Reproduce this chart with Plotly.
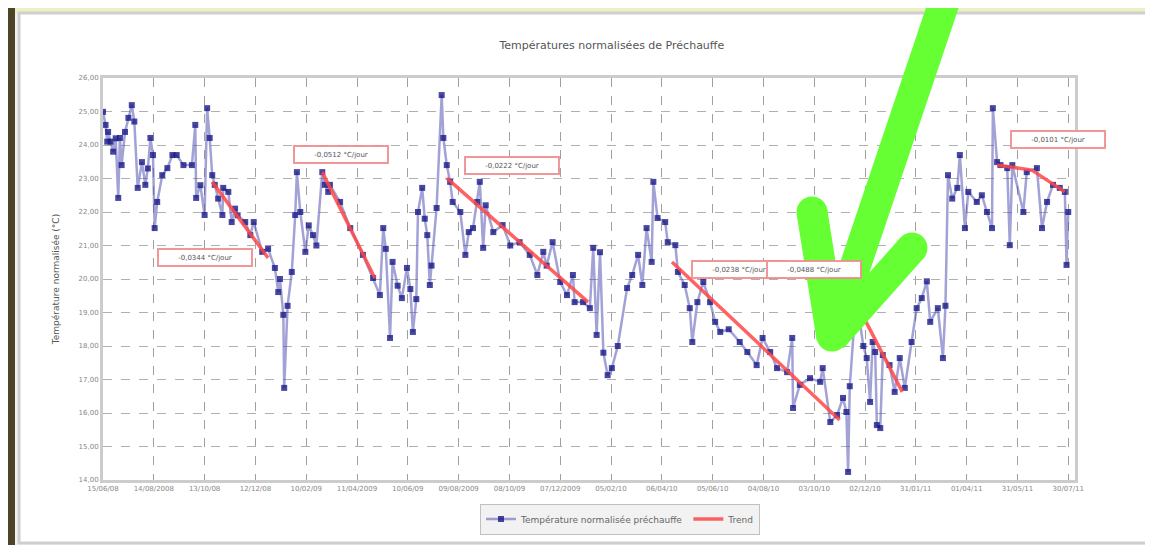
import plotly.graph_objects as go

# ---------------- data ----------------
title_text = "Températures normalisées de Préchauffe"
series_name = "Température normalisée préchauffe"
trend_name = "Trend"
y_title = "Température normalisée (°C)"

days = [0, 3, 5, 6, 9, 12, 15, 18, 20, 22, 26, 30, 34, 37, 41, 46, 50, 53, 56, 59,
        61, 64, 70, 76, 82, 87, 95, 105, 109, 110, 115, 120, 123, 126, 129, 132, 136, 141, 142, 148,
        152, 156, 159, 168, 174, 178, 188, 195, 203, 207, 209, 213, 214, 218, 223, 227, 229, 233, 239, 243,
        248, 252, 259, 262, 266, 268, 280, 292, 307, 319, 327, 331, 334, 339, 342, 348, 353, 359, 363, 366,
        370, 372, 377, 380, 383, 386, 388, 394, 400, 402, 406, 410, 413, 422, 428, 432, 437, 442, 445, 449,
        452, 461, 472, 481, 492, 504, 513, 520, 524, 531, 540, 548, 555, 557, 567, 575, 579, 583, 587, 591,
        596, 601, 608, 619, 625, 632, 637, 642, 648, 650, 655, 664, 667, 676, 679, 687, 693, 696, 702, 709,
        717, 723, 729, 739, 752, 761, 772, 779, 788, 796, 808, 814, 815, 823, 835, 847, 850, 859, 867, 874,
        878, 880, 882, 888, 894, 898, 902, 906, 909, 912, 914, 918, 921, 929, 935, 941, 947, 955, 961, 967,
        973, 977, 986, 992, 995, 998, 1003, 1009, 1012, 1018, 1022, 1032, 1038, 1044, 1050, 1051, 1056, 1060, 1068, 1071,
        1074, 1087, 1091, 1103, 1109, 1115, 1122, 1130, 1136, 1138, 1140]

temps = [24.99, 24.60, 24.10, 24.39, 24.10, 23.80, 24.20, 22.42, 24.21, 23.40, 24.39, 24.81, 25.19, 24.70, 22.72, 23.49, 22.81, 23.30, 24.21, 23.70,
         21.52, 22.30, 23.10, 23.31, 23.70, 23.70, 23.40, 23.40, 24.60, 22.42, 22.80, 21.91, 25.10, 24.21, 23.10, 22.81, 22.40, 21.91, 22.72, 22.60,
         21.70, 22.10, 21.90, 21.70, 21.31, 21.70, 20.81, 20.90, 20.33, 19.61, 20.00, 18.93, 16.75, 19.20, 20.21, 21.91, 23.19, 22.00, 20.81, 21.60,
         21.31, 21.00, 23.19, 22.81, 22.60, 22.81, 22.30, 21.52, 20.72, 20.03, 19.52, 21.52, 20.90, 18.24, 20.51, 19.80, 19.43, 20.33, 19.70, 18.42,
         19.40, 22.00, 22.72, 21.80, 21.31, 19.82, 20.40, 22.12, 25.49, 24.21, 23.40, 22.90, 22.30, 22.00, 20.72, 21.40, 21.52, 22.30, 22.90, 20.93,
         22.20, 21.40, 21.61, 21.00, 21.10, 20.72, 20.12, 20.81, 20.40, 21.10, 19.91, 19.52, 20.12, 19.31, 19.31, 19.13, 20.93, 18.33, 20.80, 17.80,
         17.13, 17.34, 18.00, 19.73, 20.12, 20.72, 19.82, 21.52, 20.51, 22.90, 21.82, 21.70, 21.10, 21.01, 20.21, 19.82, 19.13, 18.12, 19.31, 19.91,
         19.31, 18.72, 18.42, 18.50, 18.12, 17.82, 17.43, 18.24, 17.82, 17.34, 17.22, 18.24, 16.15, 16.84, 17.04, 16.93, 17.34, 15.73, 15.94, 16.45,
         16.03, 14.24, 16.80, 18.93, 18.70, 18.00, 17.64, 16.33, 18.12, 17.82, 15.64, 15.55, 17.73, 17.43, 16.63, 17.64, 16.75, 18.12, 19.13, 19.43,
         19.93, 18.72, 19.13, 17.64, 19.20, 23.10, 22.40, 22.72, 23.70, 21.52, 22.60, 22.30, 22.50, 22.00, 21.52, 25.10, 23.49, 23.40, 23.31, 21.01,
         23.40, 22.00, 23.19, 23.31, 21.52, 22.30, 22.81, 22.72, 22.60, 20.42, 22.00]

trend_days = [129, 195, None, 259, 321, None, 406, 573, None, 672, 870, None, 894, 944, None, 1056, 1097, 1136]
trend_vals = [22.90, 20.63, None, 23.19, 20.03, None, 23.01, 19.31, None, 20.51, 15.79, None, 19.07, 16.63, None, 23.40, 23.25, 22.60]

annot_days = [120, 281, 483, 751, 840, 1128]
annot_vals = [20.63, 23.73, 23.40, 20.27, 20.27, 24.15]
annot_texts = ["-0,0344 °C/jour", "-0,0512 °C/jour", "-0,0222 °C/jour", "-0,0238 °C/jour", "-0,0488 °C/jour", "-0,0101 °C/jour"]

tick_days = [0, 60, 120, 180, 240, 300, 360, 420, 480, 540, 600, 660, 720, 780, 840, 900, 960, 1020, 1080, 1140]
tick_labels = ["15/06/08", "14/08/2008", "13/10/08", "12/12/08", "10/02/09", "11/04/2009", "10/06/09", "09/08/2009",
               "08/10/09", "07/12/2009", "05/02/10", "06/04/10", "05/06/10", "04/08/10", "03/10/10", "02/12/10",
               "31/01/11", "01/04/11", "31/05/11", "30/07/11"]
y_ticks = [14, 15, 16, 17, 18, 19, 20, 21, 22, 23, 24, 25, 26]

# ---------------- layout helpers ----------------
# page has an 8px body margin: figure pixel = screen pixel - OFF
OFF = 8
W, H = 1153, 545
L, R, T, B = 103 - OFF, 1075 - OFF, 78 - OFF, 480 - OFF


def px(x):
    return (x - OFF - L) / (R - L)


def py(y):
    return (B - (y - OFF)) / (B - T)


fig = go.Figure()

fig.add_trace(go.Scatter(
    x=days, y=temps, mode="lines+markers", name=series_name,
    line=dict(color="rgba(70,70,175,0.5)", width=2.5),
    marker=dict(color="rgba(25,25,135,0.8)", size=6, symbol="square"),
))
fig.add_trace(go.Scatter(
    x=trend_days, y=trend_vals, mode="lines", name=trend_name,
    line=dict(color="rgba(255,70,70,0.85)", width=3.5),
))

for d, v, t in zip(annot_days, annot_vals, annot_texts):
    fig.add_annotation(x=d, y=v, text=t, showarrow=False,
                       font=dict(size=7, color="#555", family="DejaVu Sans"),
                       bgcolor="white", bordercolor="rgba(240,140,140,0.9)", borderwidth=2,
                       borderpad=2, width=88, height=11)

shapes = []
# outer screenshot background pieces
shapes.append(dict(type="rect", xref="paper", yref="paper", x0=px(0), x1=px(W + 10), y0=py(-10), y1=py(14),
                   fillcolor="#eef0c4", line=dict(width=0), layer="below"))
shapes.append(dict(type="rect", xref="paper", yref="paper", x0=px(-10), x1=px(15), y0=py(-10), y1=py(H + 10),
                   fillcolor="#4d4526", line=dict(width=0), layer="below"))
shapes.append(dict(type="rect", xref="paper", yref="paper", x0=px(-10), x1=px(7), y0=py(155), y1=py(195),
                   fillcolor="#e01010", line=dict(width=0), layer="below"))
shapes.append(dict(type="rect", xref="paper", yref="paper", x0=px(-10), x1=px(7), y0=py(445), y1=py(485),
                   fillcolor="#e01010", line=dict(width=0), layer="below"))
shapes.append(dict(type="rect", xref="paper", yref="paper", x0=px(19), x1=px(1152), y0=py(13), y1=py(543),
                   fillcolor="white", line=dict(color="#cfcfcf", width=3), layer="below"))

# green arrow overlay
g = "#66ff33"
aw = 31
for (x0, y0, x1, y1) in [(950, -15, 832, 335), (812, 212, 832, 338), (912, 248, 832, 338)]:
    shapes.append(dict(type="line", xref="paper", yref="paper", x0=px(x0), y0=py(y0), x1=px(x1), y1=py(y1),
                       line=dict(color=g, width=aw), layer="above"))
for (cx, cy) in [(812, 212), (912, 248), (832, 336)]:
    r = aw / 2
    shapes.append(dict(type="circle", xref="paper", yref="paper", x0=px(cx - r), x1=px(cx + r),
                       y0=py(cy + r), y1=py(cy - r), fillcolor=g, line=dict(width=0), layer="above"))

fig.update_layout(
    width=W, height=H,
    margin=dict(l=L, r=W - R, t=T, b=H - B),
    paper_bgcolor="#f3f3f3", plot_bgcolor="white",
    font=dict(family="DejaVu Sans", color="#777"),
    title=dict(text=title_text, x=px(612), xanchor="center", y=1 - (45 - OFF) / H, yanchor="middle",
               font=dict(size=11, color="#555")),
    showlegend=True,
    legend=dict(orientation="h", x=px(620), xanchor="center", y=py(519), yanchor="middle",
                bgcolor="#f2f2f2", bordercolor="#c0c0c0", borderwidth=1,
                font=dict(size=9, color="#666")),
    shapes=shapes,
    separators=",.",
)

fig.update_xaxes(range=[0, 1148], tickmode="array", tickvals=tick_days, ticktext=tick_labels,
                 tickfont=dict(size=7, color="#888"), showgrid=True, gridcolor="#a0a0a0", griddash="dash",
                 gridwidth=1, showline=True, linecolor="#cccccc", linewidth=3, mirror=True, zeroline=False,
                 ticks="", tickangle=0)
fig.update_yaxes(range=[14, 26], tickmode="array", tickvals=y_ticks, tickformat=".2f",
                 tickfont=dict(size=7, color="#888"), showgrid=True, gridcolor="#b0b0b0", griddash="dash",
                 gridwidth=1, showline=True, linecolor="#cccccc", linewidth=3, mirror=True, zeroline=False,
                 title=dict(text=y_title, font=dict(size=9, color="#555"), standoff=18), ticks="")

fig.write_html("out.html")
